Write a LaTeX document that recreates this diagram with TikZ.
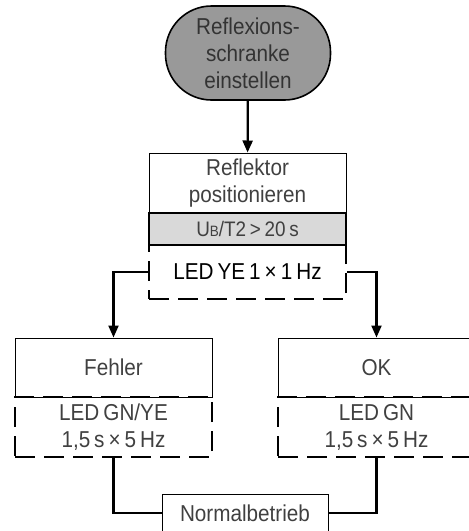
\documentclass[tikz,border=0pt]{standalone}
\usepackage{fontspec}
\setmainfont[FakeStretch=0.9,WordSpace=0.7]{Liberation Sans}
\usepackage{tikz}
\usetikzlibrary{arrows.meta}
\newcommand{\boxfont}{\fontsize{23}{27}\selectfont}
\newcommand{\ledfont}{\fontsize{23}{27}\selectfont}
\newcommand{\ubfont}{\fontsize{21}{23}\selectfont}

\begin{document}
\begin{tikzpicture}[x=1pt,y=-1pt,>={Triangle[length=12pt,width=10pt]},
    txt/.style={text=black!75,font=\boxfont,align=center},
    box/.style={draw,line width=1pt,minimum width=197pt,inner sep=0pt,txt},
    ledbox/.style={box,line width=2.8pt,dash pattern=on 20pt off 9pt},
    ubbox/.style={box,line width=1.8pt,fill=black!15,font=\ubfont},
    start/.style={draw,line width=1.6pt,fill=black!40,rounded corners=46pt,
      minimum width=165pt,minimum height=94pt,inner sep=0pt,txt,text=black!80},
    link/.style={line width=2.2pt}]
  \useasboundingbox (0,0) rectangle (469,531);
  % start
  \node[start] (start) at (248,53) {Reflexions-\\schranke\\einstellen};
  % reflector
  \node[box,minimum height=60pt] (pos) at (247.5,183) {Reflektor\\positionieren};
  \node[ubbox,minimum height=32pt] (ub) at (247.5,229) {U{\fontsize{15}{15}\selectfont B}/T2 > 20 s};
  \node[ledbox,minimum height=54pt,font=\ledfont,text=black] (led) at (247.5,272) {LED YE 1 × 1 Hz};
  % error / ok
  \node[box,minimum height=59pt] (fehler) at (113.5,367.5) {Fehler};
  \node[ledbox,minimum height=60pt] (fehlerled) at (113.5,427) {LED GN/YE\\1,5\,s × 5\,Hz};
  \node[box,minimum height=59pt] (ok) at (376.5,367.5) {OK};
  \node[ledbox,minimum height=60pt] (okled) at (376.5,427) {LED GN\\1,5\,s × 5\,Hz};
  % normal
  \node[box,minimum width=166pt,minimum height=38pt] (normal) at (245,513) {Normalbetrieb};
  % links
  \draw[link,->] (start) -- (pos);
  \draw[link,->] (led.west) -| (fehler.north);
  \draw[link,->] (led.east) -| (ok.north);
  \draw[link] (fehlerled.south) |- (normal.west);
  \draw[link] (okled.south) |- (normal.east);
\end{tikzpicture}
\end{document}
